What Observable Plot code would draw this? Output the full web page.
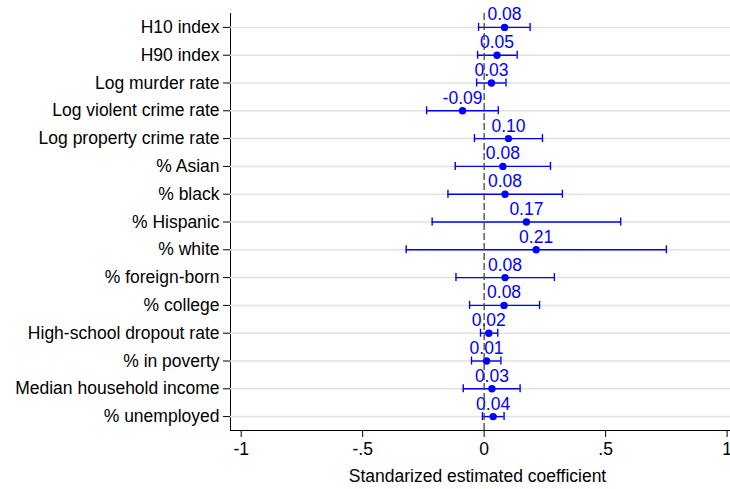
<!DOCTYPE html>
<html>
<head>
<meta charset="utf-8">
<script src="https://cdn.jsdelivr.net/npm/d3@7"></script>
<script src="https://cdn.jsdelivr.net/npm/@observablehq/plot@0.6"></script>
<style>
  html, body { margin: 0; padding: 0; background: #fff; }
  #chart svg { display: block; }
</style>
</head>
<body>
<div id="chart"></div>
<script>
const categories = [
  "H10 index", "H90 index", "Log murder rate", "Log violent crime rate",
  "Log property crime rate", "% Asian", "% black", "% Hispanic", "% white",
  "% foreign-born", "% college", "High-school dropout rate", "% in poverty",
  "Median household income", "% unemployed"
];
const estimates = [0.084, 0.053, 0.030, -0.089, 0.100, 0.077, 0.086, 0.174, 0.214, 0.086, 0.082, 0.019, 0.010, 0.032, 0.037];
const ciLow  = [-0.023, -0.027, -0.031, -0.237, -0.040, -0.119, -0.149, -0.214, -0.321, -0.116, -0.060, -0.015, -0.052, -0.086, -0.007];
const ciHigh = [0.189, 0.136, 0.090, 0.058, 0.240, 0.273, 0.322, 0.562, 0.750, 0.289, 0.228, 0.056, 0.069, 0.148, 0.082];
const labels = ["0.08", "0.05", "0.03", "-0.09", "0.10", "0.08", "0.08", "0.17", "0.21", "0.08", "0.08", "0.02", "0.01", "0.03", "0.04"];
const xTicks = [-1, -0.5, 0, 0.5, 1];
const xTickLabels = ["-1", "-.5", "0", ".5", "1"];
const xTitle = "Standarized estimated coefficient";

const data = categories.map((c, i) => ({cat: c, est: estimates[i], lo: ciLow[i], hi: ciHigh[i], label: labels[i]}));

const blue = "#0000ff";
const chart = Plot.plot({
  width: 730,
  height: 489,
  marginLeft: 230,
  marginRight: 0,
  marginTop: 13,
  marginBottom: 59,
  style: {fontFamily: "'Liberation Sans', Arial, Helvetica, sans-serif", fontSize: "17.5px", color: "#000", background: "#fff"},
  x: {domain: [-1.044, 1.014], ticks: xTicks, tickFormat: (d) => xTickLabels[xTicks.indexOf(d)], label: null, tickSize: 7, tickPadding: 5, line: true},
  y: {type: "band", domain: categories, padding: 0, round: false, label: null, tickSize: 7, tickPadding: 4, line: true},
  marks: [
    Plot.ruleY(data, {y: "cat", stroke: "#e2e2e2", strokeWidth: 1.5}),
    Plot.ruleY(data, {y: "cat", x1: "lo", x2: "hi", stroke: blue, strokeWidth: 1.4}),
    Plot.tickX(data, {y: "cat", x: "lo", stroke: blue, strokeWidth: 1.4, insetTop: 9.9, insetBottom: 9.9}),
    Plot.tickX(data, {y: "cat", x: "hi", stroke: blue, strokeWidth: 1.4, insetTop: 9.9, insetBottom: 9.9}),
    Plot.dot(data, {y: "cat", x: "est", r: 3.7, fill: blue, stroke: null}),
    Plot.text(data, {y: "cat", x: "est", text: "label", fill: blue, lineAnchor: "bottom", dy: -7, fontSize: 17.5}),
    Plot.ruleX([0], {stroke: "#444", strokeWidth: 1.3, strokeDasharray: "7,3"}),
    Plot.text([xTitle], {frameAnchor: "bottom", dy: 51, dx: -3, lineAnchor: "bottom", fill: "#000", fontSize: 17.5})
  ]
});
document.getElementById("chart").appendChild(chart);
</script>
</body>
</html>
